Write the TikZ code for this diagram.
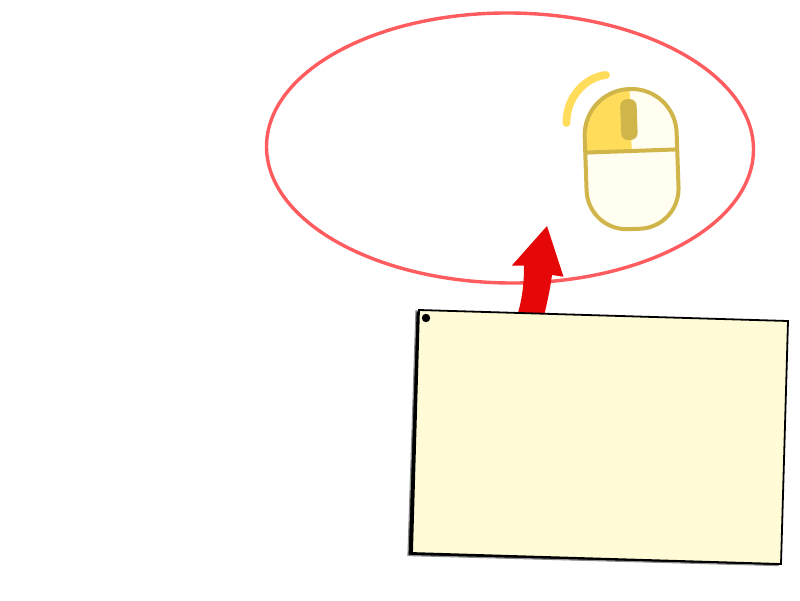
\documentclass[tikz,border=0pt]{standalone}
\usetikzlibrary{calc}
\definecolor{ringred}{HTML}{FF5C60}
\definecolor{arrowred}{HTML}{E60808}
\definecolor{cardfill}{HTML}{FFFBD6}
\definecolor{mouseline}{HTML}{D0B64A}
\definecolor{mouseyellow}{HTML}{FFDC5A}
\definecolor{mousefill}{HTML}{FFFEF0}
\tikzset{
  ring/.style={draw=ringred,line width=3.4pt},
  cardbox/.style={draw=black,line width=1.8pt,fill=cardfill,line join=miter},
  cardshadow/.style={fill=black,draw=black!45,line width=1.2pt},
  mouseedge/.style={draw=mouseline,line width=4pt},
}
\begin{document}
\begin{tikzpicture}[x=1pt,y=-1pt]
\useasboundingbox (0,0) rectangle (800,600);
\fill[white] (0,0) rectangle (800,600);
% ring
\draw[ring,rotate around={-0.5:(510,148)}] (510,148) ellipse [x radius=243.5,y radius=135];
% mouse
\begin{scope}[rotate around={2:(631.5,159)},shift={(631.5,159)}]
  \path[fill=mousefill] (-46,-8) -- (-46,-24) arc[start angle=180,end angle=270,radius=46] -- (0,-70) -- (1,-70) arc[start angle=270,end angle=360,radius=45] -- (46,-8) -- (46,30) arc[start angle=0,end angle=90,radius=40] -- (-6,70) arc[start angle=90,end angle=180,radius=40] -- cycle;
  \path[fill=mouseyellow] (0.5,-8) -- (-46,-8) -- (-46,-24) arc[start angle=180,end angle=270,radius=46] -- (0.5,-70) -- cycle;
  \draw[mouseedge] (-46,-24) arc[start angle=180,end angle=270,radius=46] -- (1,-70) arc[start angle=270,end angle=360,radius=45] -- (46,30) arc[start angle=0,end angle=90,radius=40] -- (-6,70) arc[start angle=90,end angle=180,radius=40] -- cycle;
  \draw[mouseedge] (-46,-8) -- (46,-8);
  \fill[mouseline,rounded corners=7pt] (-9.5,-60) rectangle (7,-19);
\end{scope}
\draw[mouseyellow,line width=7.8pt,line cap=round] (606,75) .. controls (585,77) and (566,98) .. (566.5,123);
% arrow
\fill[arrowred] (517,316) .. controls (522,300) and (524,285) .. (524,265.5) -- (511.7,265.7) -- (547,226) -- (563.5,276.7) -- (552,275) .. controls (550,290) and (547,303) .. (544,316) -- cycle;
% card
\path[cardshadow] (416,311) -- (785,322) -- (778,565.5) -- (408,555.5) -- cycle;
\path[cardbox] (419,310) -- (788,321) -- (781,564) -- (412,553) -- cycle;
\fill[black] (426,318) circle (4.2);
\end{tikzpicture}
\end{document}
